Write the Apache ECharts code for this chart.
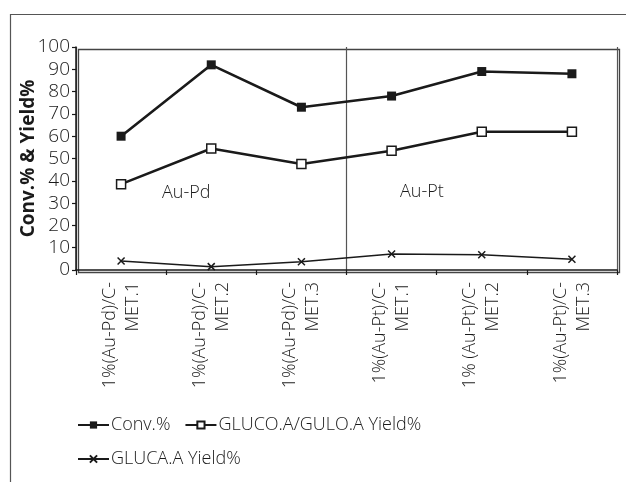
<!DOCTYPE html>
<html><head><meta charset="utf-8">
<script src="https://cdn.jsdelivr.net/npm/echarts@6/dist/echarts.min.js"></script>
<style>html,body{margin:0;padding:0;background:#fff}#c{width:626px;height:482px}</style>
</head><body><div id="c"></div>
<script>
const categories = ['1%(Au-Pd)/C-\nMET.1','1%(Au-Pd)/C-\nMET.2','1%(Au-Pd)/C-\nMET.3','1%(Au-Pt)/C-\nMET.1','1% (Au-Pt)/C-\nMET.2','1%(Au-Pt)/C-\nMET.3'];
const conv = [60, 92, 73, 78, 89, 88];
const glucoYield = [38.5, 54.5, 47.5, 53.5, 62, 62];
const glucaYield = [4, 1.5, 3.7, 7.2, 6.8, 4.8];
const yTicks = {min: 0, max: 100, interval: 10};
const FONT = '"Open Sans", sans-serif';
const W = 300;
const INK = '#1a1a1a';
const crossPath = 'path://M0,0L10,10M10,0L0,10';
const G = {left: 76, right: 9, top: 47, bottom: 212};

const chart = echarts.init(document.getElementById('c'), null, {renderer: 'canvas'});
chart.setOption({
  animation: false,
  backgroundColor: '#fff',
  textStyle: {fontFamily: FONT, color: INK},
  grid: {left: G.left, right: G.right, top: G.top, bottom: G.bottom, containLabel: false},
  xAxis: [{
    type: 'category', data: categories, boundaryGap: true,
    axisLine: {lineStyle: {color: INK, width: 1.5}},
    axisTick: {show: true, length: 5, lineStyle: {color: INK, width: 1.2}},
    axisLabel: {rotate: 90, fontSize: 18, fontWeight: W, fontFamily: FONT, color: INK, margin: 12, lineHeight: 23, interval: 0},
    splitLine: {show: false}
  }, {
    type: 'value', position: 'top', min: 0, max: 6, interval: 3,
    axisLine: {show: false},
    axisTick: {show: false}, axisLabel: {show: false},
    splitLine: {show: true, lineStyle: {color: '#555', width: 1.2}}
  }],
  yAxis: [{
    type: 'value', min: yTicks.min, max: yTicks.max, interval: yTicks.interval,
    name: 'Conv.% & Yield%', nameLocation: 'middle', nameGap: 38, nameMoveOverlap: false,
    nameTextStyle: {fontSize: 19, fontWeight: 'bold', fontFamily: FONT, color: INK},
    axisLine: {show: true, lineStyle: {color: INK, width: 1.5}},
    axisTick: {show: true, length: 4, lineStyle: {color: INK, width: 1.2}},
    axisLabel: {fontSize: 19, fontWeight: W, fontFamily: FONT, color: INK, margin: 6},
    splitLine: {show: false}
  }],
  legend: [
    {data: ['Conv.%', 'GLUCO.A/GULO.A Yield%'], left: 72, top: 411, itemWidth: 31, itemHeight: 9, itemGap: 14,
     textStyle: {fontSize: 18, fontWeight: W, fontFamily: FONT, color: INK, padding: [0, 0, 0, -3]}},
    {data: ['GLUCA.A Yield%'], left: 72, top: 445, itemWidth: 31, itemHeight: 9,
     textStyle: {fontSize: 18, fontWeight: W, fontFamily: FONT, color: INK, padding: [0, 0, 0, -3]}}
  ],
  graphic: [
    {type: 'rect', left: 8, top: 12, shape: {x: 0, y: 0, width: 640, height: 500}, style: {fill: 'none', stroke: '#555', lineWidth: 1.2}, silent: true, z: -1},
    {type: 'rect', left: G.left, top: G.top, shape: {x: 0, y: 0, width: 626 - G.left - G.right, height: 482 - G.top - G.bottom}, style: {fill: 'none', stroke: '#444', lineWidth: 1.3}, silent: true, z: 0},
    {type: 'text', left: 162, top: 184, style: {text: 'Au-Pd', font: '300 18px "Open Sans", sans-serif', fill: INK}},
    {type: 'text', left: 400, top: 183, style: {text: 'Au-Pt', font: '300 18px "Open Sans", sans-serif', fill: INK}}
  ],
  series: [
    {name: 'Conv.%', type: 'line', data: conv, symbol: 'rect', symbolSize: 9,
     lineStyle: {color: INK, width: 2.6}, itemStyle: {color: INK, borderColor: INK, borderWidth: 0}},
    {name: 'GLUCO.A/GULO.A Yield%', type: 'line', data: glucoYield, symbol: 'rect', symbolSize: 9,
     lineStyle: {color: INK, width: 2.6}, itemStyle: {color: '#fff', borderColor: INK, borderWidth: 1.5}},
    {name: 'GLUCA.A Yield%', type: 'line', data: glucaYield, symbol: crossPath, symbolSize: 7,
     lineStyle: {color: INK, width: 1.5}, itemStyle: {color: 'none', borderColor: INK, borderWidth: 1.5}}
  ]
});
</script></body></html>
